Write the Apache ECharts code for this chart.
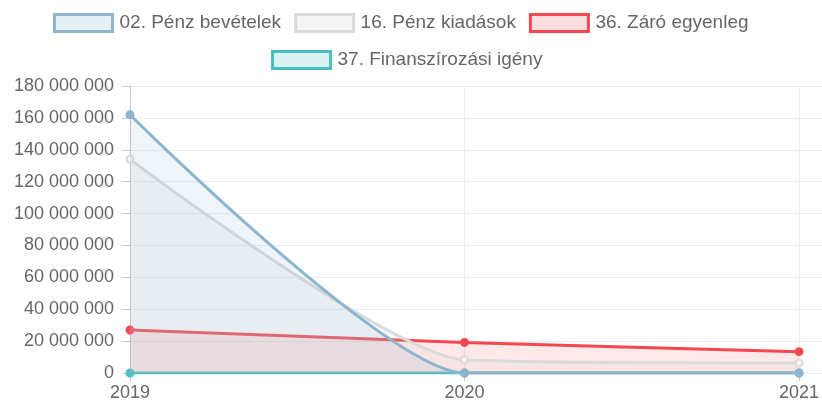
<!DOCTYPE html>
<html>
<head>
<meta charset="utf-8">
<style>
  html, body { margin: 0; padding: 0; background: #fff; }
  #chart { width: 822px; height: 405px; }
</style>
<script src="https://cdn.jsdelivr.net/npm/echarts@6/dist/echarts.min.js"></script>
</head>
<body>
<div id="chart"></div>
<script>
const years = ["2019", "2020", "2021"];
const penzBevetelek = [162000000, 0, 0];
const penzKiadasok = [134000000, 8300000, 6300000];
const zaroEgyenleg = [27000000, 19200000, 13400000];
const finanszirozasiIgeny = [0, 0, 0];

const seriesNames = [
  "02. Pénz bevételek",
  "16. Pénz kiadások",
  "36. Záró egyenleg",
  "37. Finanszírozási igény",
];

const lineColors = ["#8db5ce", "#dadada", "#f4474f", "#4bc0c0"];
const fillColors = [
  "rgba(141,181,206,0.22)",
  "rgba(205,205,205,0.22)",
  "rgba(255,90,95,0.2)",
  "rgba(75,192,192,0.2)",
];

const fontFamily = "'Liberation Sans', Arial, sans-serif";
const textColor = "#666";

const fmt = (v) => String(v).replace(/\B(?=(\d{3})+(?!\d))/g, " ");

const chart = echarts.init(document.getElementById("chart"));

const legendItem = (i) => ({
  name: seriesNames[i],
  icon: "rect",
  itemStyle: {
    color: fillColors[i],
    borderColor: lineColors[i],
    borderWidth: 3,
  },
});

const legendText = {
  fontSize: 19,
  color: textColor,
  fontFamily: fontFamily,
  padding: [0, 0, 0, 2],
};

const makeSeries = (i, data, pointFill) => ({
  name: seriesNames[i],
  type: "line",
  xAxisIndex: 0,
  yAxisIndex: 0,
  data: data,
  smooth: 0.2,
  symbol: "circle",
  symbolSize: 7,
  showSymbol: true,
  lineStyle: { color: lineColors[i], width: 3 },
  itemStyle: {
    color: pointFill,
    borderColor: lineColors[i],
    borderWidth: 2,
  },
  areaStyle: { color: fillColors[i], origin: "start" },
  z: 10 - i,
});

chart.setOption({
  animation: false,
  textStyle: { fontFamily: fontFamily },
  legend: [
    {
      left: 48,
      top: 8,
      itemWidth: 58,
      itemHeight: 17,
      itemGap: 13,
      textStyle: legendText,
      data: [legendItem(0), legendItem(1), legendItem(2)],
    },
    {
      left: 266,
      top: 45,
      itemWidth: 58,
      itemHeight: 17,
      textStyle: legendText,
      data: [legendItem(3)],
    },
  ],
  grid: [
    { left: 130, right: 20, top: 86, bottom: 32, containLabel: false },
    { left: 130, right: 0, top: 86, bottom: 32, containLabel: false },
  ],
  xAxis: [
    {
      type: "category",
      gridIndex: 0,
      data: years,
      boundaryGap: false,
      axisLine: { show: true, lineStyle: { color: "#c8c8c8", width: 1 } },
      axisTick: { show: true, length: 8, lineStyle: { color: "#c8c8c8" } },
      axisLabel: { color: textColor, fontSize: 18, margin: 11 },
      splitLine: { show: true, lineStyle: { color: "#ececec", width: 1 } },
    },
    {
      type: "value",
      gridIndex: 1,
      show: false,
    },
  ],
  yAxis: [
    {
      type: "value",
      gridIndex: 0,
      min: 0,
      max: 180000000,
      interval: 20000000,
      show: false,
      splitLine: { show: false },
    },
    {
      type: "value",
      gridIndex: 1,
      min: 0,
      max: 180000000,
      interval: 20000000,
      axisLine: { show: true, lineStyle: { color: "#c8c8c8", width: 1 } },
      axisTick: { show: true, length: 8, lineStyle: { color: "#c8c8c8" } },
      axisLabel: {
        color: textColor,
        fontSize: 18,
        margin: 16,
        formatter: (v) => fmt(v),
      },
      splitLine: { show: true, lineStyle: { color: "#ececec", width: 1 } },
    },
  ],
  series: [
    makeSeries(0, penzBevetelek, lineColors[0]),
    makeSeries(1, penzKiadasok, "#f4f4f4"),
    makeSeries(2, zaroEgyenleg, lineColors[2]),
    makeSeries(3, finanszirozasiIgeny, lineColors[3]),
  ],
});
</script>
</body>
</html>
